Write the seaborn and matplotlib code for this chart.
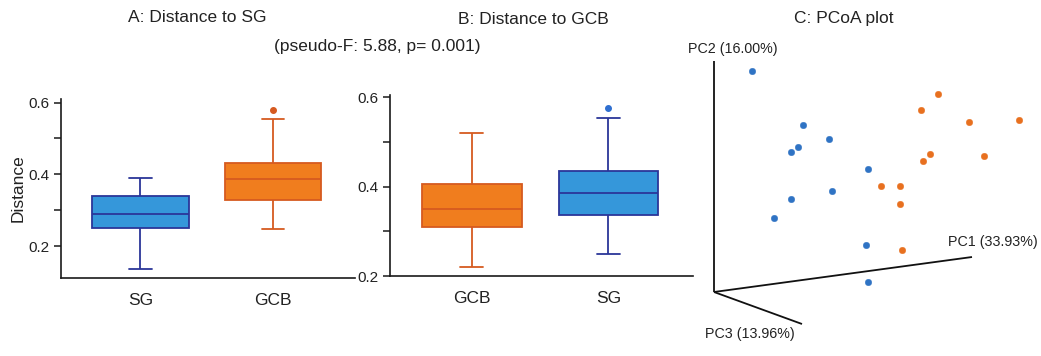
import numpy as np
import pandas as pd
import matplotlib
matplotlib.use("Agg")
import matplotlib.pyplot as plt
import seaborn as sns
from matplotlib.ticker import MultipleLocator

sns.set_style("ticks")
plt.rcParams['font.family'] = ['Liberation Sans', 'DejaVu Sans']

# ---------------- data ----------------
groups_a = ["SG", "GCB"]
dist_sg_a_SG = [0.136, 0.21, 0.250, 0.27, 0.289, 0.31, 0.339, 0.36, 0.389]
dist_sg_a_GCB = [0.247, 0.30, 0.329, 0.36, 0.386, 0.41, 0.431, 0.553, 0.580]

groups_b = ["GCB", "SG"]
dist_gcb_b_GCB = [0.221, 0.27, 0.309, 0.33, 0.351, 0.38, 0.405, 0.46, 0.521]
dist_gcb_b_SG = [0.250, 0.30, 0.336, 0.36, 0.385, 0.41, 0.436, 0.554, 0.576]

# PCoA projected positions (screen-projected, relative to the axes origin)
sg_proj_x = [38.3, 88.7, 114.7, 84.0, 77.3, 154.3, 118.0, 77.3, 60.3, 152.0, 154.3]
sg_proj_y = [221.0, 167.3, 152.7, 145.3, 140.3, 122.7, 100.7, 92.7, 74.3, 47.0, 10.3]
gcb_proj_x = [224.3, 206.7, 254.7, 304.7, 216.0, 209.3, 269.7, 167.3, 185.7, 185.7, 188.0]
gcb_proj_y = [198.3, 182.3, 169.7, 172.0, 138.0, 131.0, 135.7, 105.7, 105.7, 88.3, 42.3]
pc_labels = ["PC1 (33.93%)", "PC2 (16.00%)", "PC3 (13.96%)"]

titles = ["A: Distance to SG", "B: Distance to GCB", "C: PCoA plot"]
subtitle = "(pseudo-F: 5.88, p= 0.001)"

# ---------------- styles ----------------
blue_fill, blue_edge = "#3597da", "#2b3699"
orange_fill, orange_edge = "#f07d1e", "#d65a20"
colors = {"SG": (blue_fill, blue_edge), "GCB": (orange_fill, orange_edge)}
pt_blue, pt_orange = "#2f73c4", "#e8701f"
text_color = "#222222"

W, H = 1041, 356
fig = plt.figure(figsize=(W / 100, H / 100), dpi=100)


def fig_rect(x0, x1, ytop, ybot):
    return [x0 / W, 1 - ybot / H, (x1 - x0) / W, (ybot - ytop) / H]


def draw_box_panel(ax, order, values, ylim):
    frames = []
    for g, v in zip(order, values):
        frames.append(pd.DataFrame({"group": g, "Distance": v}))
    df = pd.concat(frames, ignore_index=True)
    for g in order:
        fill, edge = colors[g]
        fc = edge if g == "GCB" else "#2f6fd0"
        sns.boxplot(data=df[df.group == g], x="group", y="Distance", order=order,
                    ax=ax, color=fill, linecolor=edge, linewidth=1.3, width=0.73,
                    saturation=1, whis=1.3, capwidths=0.17,
                    flierprops=dict(marker="o", markerfacecolor=fc,
                                    markeredgecolor=fc, markersize=4))
    ax.set_ylim(*ylim)
    ax.set_xlim(-0.6, 1.62)
    ax.yaxis.set_major_locator(MultipleLocator(0.2))
    ax.yaxis.set_minor_locator(MultipleLocator(0.1))
    ax.yaxis.set_major_formatter(matplotlib.ticker.FormatStrFormatter("%.1f"))
    ax.tick_params(axis="y", which="both", length=5, width=1.1, labelsize=11,
                   direction="out", labelcolor=text_color, color="#1a1a1a")
    ax.tick_params(axis="x", length=0, labelsize=12.5, pad=11, labelcolor=text_color)
    for s in ["top", "right"]:
        ax.spines[s].set_visible(False)
    for s in ["left", "bottom"]:
        ax.spines[s].set_linewidth(1.2)
        ax.spines[s].set_color("#1a1a1a")
    ax.set_xlabel("")


axA = fig.add_axes(fig_rect(61, 355, 99, 278))
draw_box_panel(axA, groups_a, [dist_sg_a_SG, dist_sg_a_GCB], (0.111, 0.61))
axA.set_ylabel("Distance", fontsize=12.5, labelpad=2, color=text_color)

axB = fig.add_axes(fig_rect(390, 693, 95, 276))
draw_box_panel(axB, groups_b, [dist_gcb_b_GCB, dist_gcb_b_SG], (0.2, 0.605))
axB.set_ylabel("")

# ---------------- PCoA panel ----------------
ox, oy = 714, 292
axC = fig.add_axes([680 / W, 0, (W - 680) / W, 1])
axC.set_xlim(680 - ox, W - ox)
axC.set_ylim(oy - H, oy)
axC.axis("off")
# axes of the 3D frame (direction vectors)
axis_dirs = {"PC1": (258, 35), "PC2": (0, 231), "PC3": (88, -32)}
for k, (dx, dy) in axis_dirs.items():
    axC.plot([0, dx], [0, dy], color="#111111", lw=1.3, solid_capstyle="butt")
sns.scatterplot(x=sg_proj_x, y=sg_proj_y, ax=axC, color=pt_blue, s=22,
                edgecolor=pt_blue, linewidth=0.3, legend=False)
sns.scatterplot(x=gcb_proj_x, y=gcb_proj_y, ax=axC, color=pt_orange, s=22,
                edgecolor=pt_orange, linewidth=0.3, legend=False)
axC.text(234, 50, pc_labels[0], fontsize=10.3, ha="left", va="center", color=text_color)
axC.text(19, 243, pc_labels[1], fontsize=10.3, ha="center", va="center", color=text_color)
axC.text(36, -42, pc_labels[2], fontsize=10.3, ha="center", va="center", color=text_color)

# ---------------- titles ----------------
fig.text(197.5 / W, 1 - 17 / H, titles[0], fontsize=12.5, ha="center", va="center", color=text_color)
fig.text(533 / W, 1 - 19 / H, titles[1], fontsize=12.5, ha="center", va="center", color=text_color)
fig.text(844 / W, 1 - 18 / H, titles[2], fontsize=12.5, ha="center", va="center", color=text_color)
fig.text(377 / W, 1 - 47 / H, subtitle, fontsize=12.5, ha="center", va="center", color=text_color)

fig.savefig("out.png", dpi=100, facecolor="white")
